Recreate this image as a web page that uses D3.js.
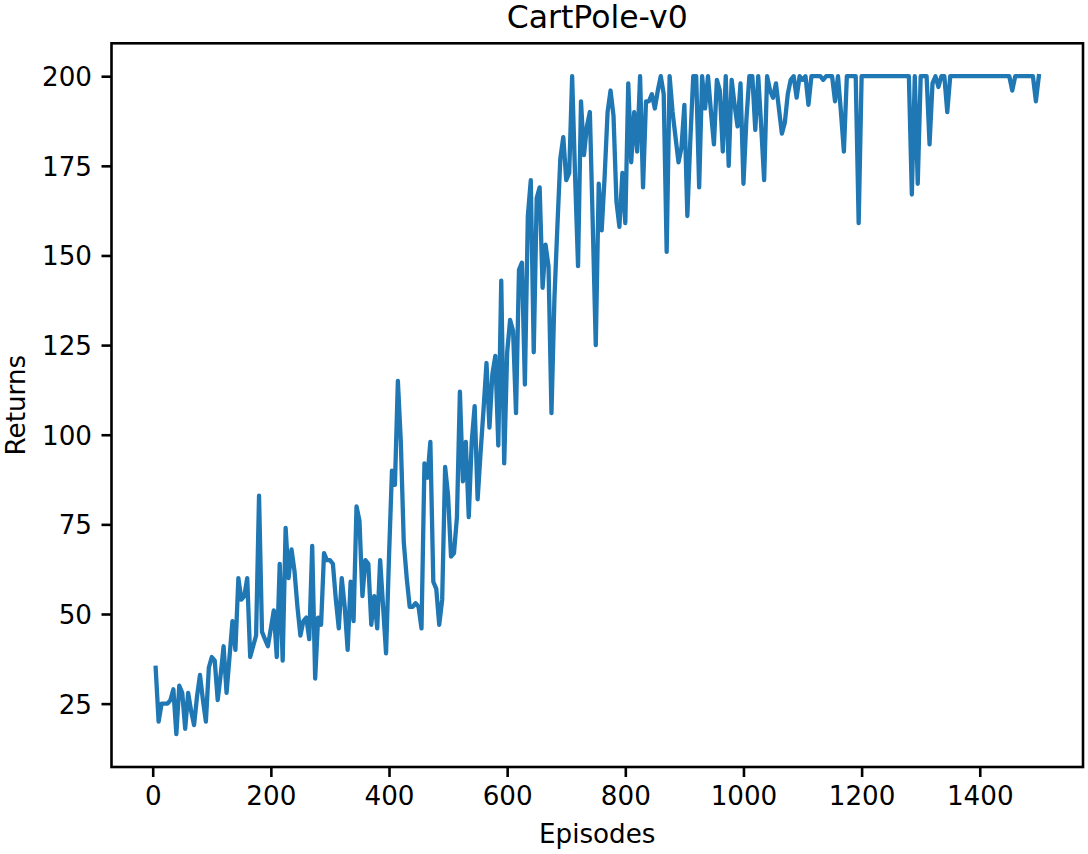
<!DOCTYPE html>
<html>
<head>
<meta charset="utf-8">
<script src="https://cdn.jsdelivr.net/npm/d3@7"></script>
<style>
  html, body { margin: 0; padding: 0; background: #ffffff; }
  svg { display: block; font-family: "DejaVu Sans", sans-serif; }
</style>
</head>
<body>
<svg id="chart" width="1088" height="854"></svg>
<script>
// ---- data ----
const chartTitle = "CartPole-v0";
const xLabel = "Episodes";
const yLabel = "Returns";

const episodes = [
  5,10,15,20,25,30,35,40,45,50,55,60,65,70,75,80,85,90,95,100,
  105,110,115,120,125,130,135,140,145,150,155,160,165,170,175,180,185,190,195,200,
  205,210,215,220,225,230,235,240,245,250,255,260,265,270,275,280,285,290,295,300,
  305,310,315,320,325,330,335,340,345,350,355,360,365,370,375,380,385,390,395,400,
  405,410,415,420,425,430,435,440,445,450,455,460,465,470,475,480,485,490,495,500,
  505,510,515,520,525,530,535,540,545,550,555,560,565,570,575,580,585,590,595,600,
  605,610,615,620,625,630,635,640,645,650,655,660,665,670,675,680,685,690,695,700,
  705,710,715,720,725,730,735,740,745,750,755,760,765,770,775,780,785,790,795,800,
  805,810,815,820,825,830,835,840,845,850,855,860,865,870,875,880,885,890,895,900,
  905,910,915,920,925,930,935,940,945,950,955,960,965,970,975,980,985,990,995,1000,
  1005,1010,1015,1020,1025,1030,1035,1040,1045,1050,1055,1060,1065,1070,1075,1080,1085,1090,1095,1100,
  1105,1110,1115,1120,1125,1130,1135,1140,1145,1150,1155,1160,1165,1170,1175,1180,1185,1190,1195,1200,
  1205,1210,1215,1220,1225,1230,1235,1240,1245,1250,1255,1260,1265,1270,1275,1280,1285,1290,1295,1300,
  1305,1310,1315,1320,1325,1330,1335,1340,1345,1350,1355,1360,1365,1370,1375,1380,1385,1390,1395,1400,
  1405,1410,1415,1420,1425,1430,1435,1440,1445,1450,1455,1460,1465,1470,1475,1480,1485,1490,1495,1500
];

const returns = [
  35,20,25,25,25,26,29,16.5,30,28,
  18,28,23,19,27,33,26,20,35,38,
  37,26,33,41,28,38,48,40,60,54,
  55,60,38,41,44,83,45,43,41,46,
  51,38,64,37,74,60,68,62,52,44,
  48,49,43,69,32,49,47,67,65,65,
  64,54,46,60,52,40,59,48,80,76,
  55,65,64,47,55,46,65,52,39,66,
  90,86,115,98,70,60,52,52,53,52,
  46,92,88,98,59,57,47,54,91,83,
  66,67,77,112,87,98,77,98,108,82,
  95,107,120,102,117,122,97,143,92,123,
  132,129,106,146,148,114,161,171,123,166,
  169,141,153,147,106,138,158,177,183,171,
  173,200,172,147,193,178,186,190,158,125,
  170,157,172,190,196,189,165,158,173,159,
  198,176,190,179,200,169,193,193,195,191,
  196,200,195,151,200,190,183,176,180,192,
  161,182,200,200,169,200,191,200,190,181,
  199,196,179,200,175,199,192,186,198,170,
  188,200,200,185,200,186,171,200,196,194,
  198,191,184,187,195,199,200,194,200,199,
  200,192,200,200,200,200,199,200,200,200,
  193,200,190,179,200,200,200,200,159,200,
  200,200,200,200,200,200,200,200,200,200,
  200,200,200,200,200,200,167,200,170,200,
  200,200,181,198,200,197,200,200,190,200,
  200,200,200,200,200,200,200,200,200,200,
  200,200,200,200,200,200,200,200,200,200,
  196,200,200,200,200,200,200,200,193,200
];

const xTicks = [0, 200, 400, 600, 800, 1000, 1200, 1400];
const yTicks = [25, 50, 75, 100, 125, 150, 175, 200];

// ---- layout ----
const W = 1088, H = 854;
const plot = { left: 111.5, right: 1083, top: 43.3, bottom: 767 };
const tickLen = 10, tickPad = 9.5;
const tickFont = 26.2, labelFont = 26.2, titleFont = 31.5;
const frameW = 2.6;

const svg = d3.select("#chart");
svg.append("rect").attr("width", W).attr("height", H).attr("fill", "#ffffff");

function padded(ext) {
  const d = ext[1] - ext[0];
  return [ext[0] - 0.05 * d, ext[1] + 0.05 * d];
}

const x = d3.scaleLinear()
  .domain(padded(d3.extent(episodes)))
  .range([plot.left, plot.right]);
const y = d3.scaleLinear()
  .domain(padded(d3.extent(returns)))
  .range([plot.bottom, plot.top]);

const data = episodes.map((e, i) => ({ e, r: returns[i] }));

// clip
svg.append("clipPath").attr("id", "clip")
  .append("rect")
  .attr("x", plot.left).attr("y", plot.top)
  .attr("width", plot.right - plot.left).attr("height", plot.bottom - plot.top);

// line
const line = d3.line().x(d => x(d.e)).y(d => y(d.r));
svg.append("path")
  .datum(data)
  .attr("clip-path", "url(#clip)")
  .attr("d", line)
  .attr("fill", "none")
  .attr("stroke", "#1f77b4")
  .attr("stroke-width", 4.3)
  .attr("stroke-linejoin", "round")
  .attr("stroke-linecap", "square");

// axes
const xAxis = d3.axisBottom(x).tickValues(xTicks).tickFormat(d3.format("d"))
  .tickSizeInner(tickLen).tickSizeOuter(0).tickPadding(tickPad);
const yAxis = d3.axisLeft(y).tickValues(yTicks).tickFormat(d3.format("d"))
  .tickSizeInner(tickLen).tickSizeOuter(0).tickPadding(tickPad);

const gx = svg.append("g").attr("transform", `translate(0,${plot.bottom})`).call(xAxis);
const gy = svg.append("g").attr("transform", `translate(${plot.left},0)`).call(yAxis);

[gx, gy].forEach(g => {
  g.select(".domain").remove();
  g.selectAll(".tick line").attr("stroke", "#000").attr("stroke-width", frameW);
  g.selectAll(".tick text")
    .attr("fill", "#000")
    .attr("font-family", "DejaVu Sans, sans-serif")
    .attr("font-size", tickFont);
});
gx.selectAll(".tick text").attr("dy", null).attr("y", 38);
gy.selectAll(".tick text").attr("dy", null).attr("y", 0.36 * tickFont);

// frame
svg.append("rect")
  .attr("x", plot.left).attr("y", plot.top)
  .attr("width", plot.right - plot.left).attr("height", plot.bottom - plot.top)
  .attr("fill", "none").attr("stroke", "#000").attr("stroke-width", frameW);

// labels
svg.append("text")
  .attr("x", (plot.left + plot.right) / 2).attr("y", 842.5)
  .attr("text-anchor", "middle")
  .attr("font-size", labelFont).attr("fill", "#000")
  .text(xLabel);

svg.append("text")
  .attr("transform", `translate(24.5,${(plot.top + plot.bottom) / 2}) rotate(-90)`)
  .attr("text-anchor", "middle")
  .attr("font-size", labelFont).attr("fill", "#000")
  .text(yLabel);

svg.append("text")
  .attr("x", (plot.left + plot.right) / 2).attr("y", 28.3)
  .attr("text-anchor", "middle")
  .attr("font-size", titleFont).attr("fill", "#000")
  .text(chartTitle);
</script>
</body>
</html>
